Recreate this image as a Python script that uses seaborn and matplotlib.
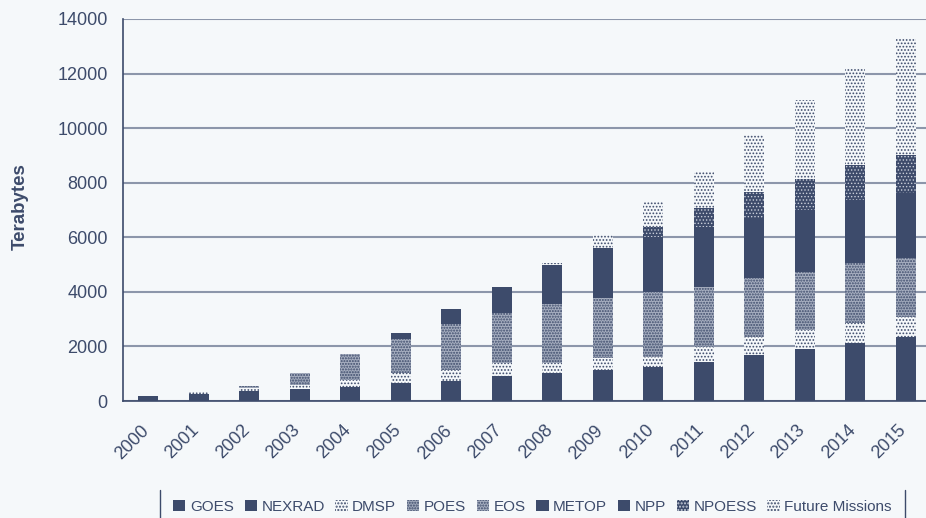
import numpy as np
import pandas as pd
import seaborn as sns
import matplotlib.pyplot as plt
import matplotlib.transforms as mtransforms
from matplotlib.patches import Patch
from matplotlib.lines import Line2D
from matplotlib.ticker import MultipleLocator

years = [str(y) for y in range(2000, 2016)]

goes = [100, 150, 210, 240, 280, 360, 400, 510, 550, 620, 690, 780, 920, 1030, 1170, 1290]
nexrad = [80, 120, 170, 200, 230, 300, 330, 420, 460, 520, 570, 650, 770, 860, 970, 1070]
dmsp = [0, 70, 80, 150, 250, 370, 400, 450, 370, 420, 360, 550, 650, 710, 710, 730]
poes = [0, 0, 100, 200, 330, 420, 560, 620, 720, 730, 790, 730, 720, 710, 730, 710]
eos = [0, 0, 0, 240, 630, 820, 1130, 1230, 1450, 1470, 1580, 1470, 1440, 1430, 1460, 1430]
metop = [0, 0, 0, 0, 0, 220, 550, 960, 1100, 1200, 1250, 1280, 1300, 1310, 1330, 1350]
npp = [0, 0, 0, 0, 0, 0, 0, 0, 330, 630, 770, 910, 900, 950, 990, 1030]
npoess = [0, 0, 0, 0, 0, 0, 0, 0, 0, 0, 360, 700, 950, 1120, 1280, 1400]
future = [0, 0, 0, 0, 0, 0, 0, 0, 60, 490, 930, 1360, 2090, 2910, 3580, 4290]

series_names = ['GOES', 'NEXRAD', 'DMSP', 'POES', 'EOS', 'METOP', 'NPP', 'NPOESS', 'Future Missions']

navy = '#3d4b6b'
bg = '#f5f8fa'
grid_col = '#8c96aa'

sns.set_style('white')
plt.rcParams['font.family'] = ['Liberation Sans', 'DejaVu Sans']
plt.rcParams['hatch.color'] = navy
plt.rcParams['text.color'] = navy

df = pd.DataFrame(dict(zip(series_names,
                           [goes, nexrad, dmsp, poes, eos, metop, npp, npoess, future])),
                  index=years)
cum = df.cumsum(axis=1)
cum['year'] = years

# fill, hatch, hatch colour, hatch width for each series
styles = {
    'GOES': (navy, None, navy, 1.0),
    'NEXRAD': (navy, None, navy, 1.0),
    'DMSP': (bg, '.....', navy, 0.8),
    'POES': ('#9ea7b9', '......', navy, 1.0),
    'EOS': ('#a7afc0', '......', navy, 1.0),
    'METOP': (navy, None, navy, 1.0),
    'NPP': (navy, None, navy, 1.0),
    'NPOESS': (navy, '.....', '#c9cfdb', 0.6),
    'Future Missions': (bg, '.....', navy, 0.8),
}

fig = plt.figure(figsize=(9.26, 5.18), dpi=100, facecolor=bg)
ax = fig.add_axes([123 / 926, 117 / 518, 808 / 926, 382 / 518])
ax.set_facecolor(bg)
ax.set_axisbelow(True)

# stacked bars: draw the cumulative totals from the top series down
for name in reversed(series_names):
    fc, hatch, hc, hlw = styles[name]
    n0 = len(ax.patches)
    with plt.rc_context({'hatch.linewidth': hlw}):
        sns.barplot(data=cum, x='year', y=name, color=navy, width=0.4,
                    errorbar=None, saturation=1, ax=ax)
    for p in ax.patches[n0:]:
        p.set_facecolor(fc)
        p.set_edgecolor(hc)
        p.set_linewidth(0)
        if hatch:
            p.set_hatch(hatch)

ax.set_ylim(0, 14000)
ax.set_xlim(-0.5, 15.5)
ax.set_yticks(range(0, 14001, 2000))
ax.yaxis.set_minor_locator(MultipleLocator(1000))
ax.yaxis.grid(True, color=grid_col, lw=1.5)
ax.xaxis.grid(False)

ax.set_xticks(np.arange(-0.5, 16, 1), minor=True)
ax.tick_params(axis='x', which='major', length=0, pad=15, labelsize=13, labelcolor=navy)
ax.tick_params(axis='x', which='minor', direction='out', length=6, width=1, color=navy)
ax.tick_params(axis='y', which='major', direction='inout', length=10, width=1.2,
               color=navy, labelsize=13, labelcolor=navy, pad=6)
ax.tick_params(axis='y', which='minor', direction='in', length=5, width=1, color=navy)
shift = mtransforms.ScaledTranslation(-0.08, 0, fig.dpi_scale_trans)
for lab in ax.get_xticklabels():
    lab.set_rotation(45)
    lab.set_ha('right')
    lab.set_rotation_mode('anchor')
    lab.set_transform(lab.get_transform() + shift)

sns.despine(ax=ax)
for s in ['left', 'bottom']:
    ax.spines[s].set_color(navy)
    ax.spines[s].set_linewidth(1.2)

ax.set_xlabel('')
ax.set_ylabel('Terabytes', fontsize=13.5, fontweight='bold', color=navy)
ax.yaxis.set_label_coords(-0.117, 0.51)

handles = []
for name in series_names:
    fc, hatch, hc, hlw = styles[name]
    with plt.rc_context({'hatch.linewidth': hlw}):
        h = Patch(facecolor=fc, edgecolor=hc, linewidth=0, hatch=hatch)
    handles.append(h)
fig.legend(handles, series_names, loc='center', bbox_to_anchor=(0.575, 0.022),
           ncol=9, frameon=False, fontsize=11, handlelength=0.8, handleheight=0.8,
           handletextpad=0.3, columnspacing=0.7, labelcolor=navy)
for xp in (160, 905):
    fig.add_artist(Line2D([xp / 926, xp / 926], [0, 28 / 518],
                          transform=fig.transFigure, color=navy, lw=1))

fig.savefig('out.png', dpi=100, facecolor=bg)
